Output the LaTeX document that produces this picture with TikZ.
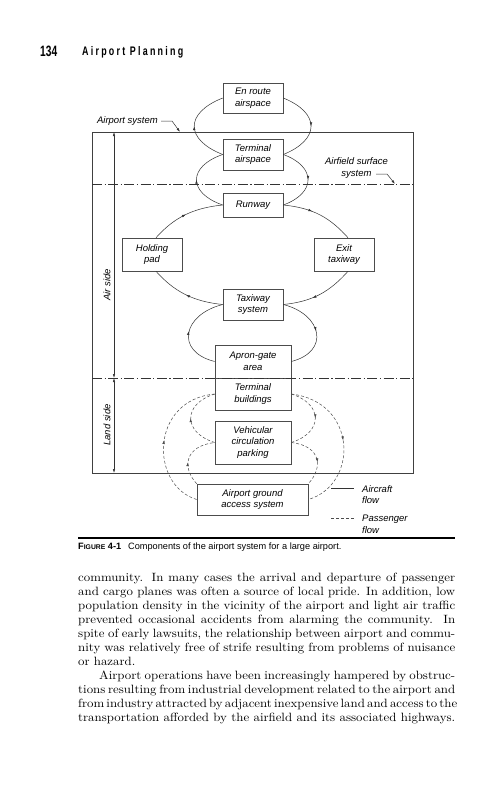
\documentclass[tikz,border=0pt]{standalone}
\usepackage{graphicx}
\usepackage{fontspec}
\usetikzlibrary{arrows.meta,decorations.markings}
\newfontfamily\figfont{Liberation Sans}
\newfontfamily\headfont[LetterSpace=25]{Liberation Sans}
\newfontfamily\bodyfont[FakeStretch=1.07]{lmroman10-regular.otf}
\newcommand{\jline}[1]{\hbox to 377pt{\spaceskip=4pt plus 8pt minus 1.8pt\relax #1}}
\begin{document}
\begin{tikzpicture}[x=1pt, y=-1pt,
  blk/.style={draw=black!70, line width=0.6pt, fill=white, align=center, inner sep=1pt, font=\figfont\itshape\fontsize{9.5}{11.7}\selectfont},
  lbl/.style={inner sep=0pt, font=\figfont\itshape\fontsize{9.5}{11.7}\selectfont},
  aflow/.style={draw=black!80, line width=0.5pt},
  pflow/.style={draw=black!70, line width=0.5pt, dash pattern=on 3pt off 2pt},
  midarrow/.style={postaction={decorate}, decoration={markings, mark=at position #1 with {\arrow{Latex[length=4pt,width=2.6pt]}}}},
  dimarr/.style={draw=black!80, line width=0.5pt, {Latex[length=4pt,width=2.4pt]}-{Latex[length=4pt,width=2.4pt]}},
  ldr/.style={draw=black!80, line width=0.5pt, -{Latex[length=4pt,width=2.4pt]}},
  dashdot/.style={draw=black!80, line width=0.6pt, dash pattern=on 10pt off 2.5pt on 1.2pt off 2.5pt},
  bodyln/.style={anchor=base west, inner sep=0pt, font=\bodyfont\fontsize{12}{14}\selectfont},
  capn/.style={anchor=base west, inner sep=0pt, font=\figfont\fontsize{9.2}{11}\selectfont}]
\path[fill=white, use as bounding box] (0,0) rectangle (503,800);
% running head
\node[anchor=base west, inner sep=0pt] (pgnum) at (40,56.5) {\resizebox{17pt}{10.5pt}{\figfont\bfseries 134}};
\node[anchor=base west, inner sep=0pt] (runhd) at (82,55.5) {\resizebox{101pt}{9pt}{\headfont\bfseries Airport Planning}};
% frame and boundaries
\coordinate (frmnw) at (92,132);
\coordinate (frmse) at (413,473);
\draw[draw=black!75, line width=0.6pt] (frmnw) rectangle (frmse);
\coordinate (dd1w) at (92,184);
\coordinate (dd1e) at (413,184);
\coordinate (dd2w) at (92,378);
\coordinate (dd2e) at (413,378);
% boxes
\node[blk, minimum width=60pt, minimum height=30pt] (enroute) at (253,98) {En route\\airspace};
\node[blk, minimum width=60pt, minimum height=31pt] (termair) at (253,154.5) {Terminal\\airspace};
\node[blk, minimum width=60pt, minimum height=24pt] (runway) at (253,205) {Runway};
\node[blk, minimum width=60pt, minimum height=33pt] (holdpad) at (152,254.5) {Holding\\pad};
\node[blk, minimum width=60pt, minimum height=33pt] (exittw) at (344,254.5) {Exit\\taxiway};
\node[blk, minimum width=60pt, minimum height=31pt] (taxisys) at (253,304.5) {Taxiway\\system};
\node[blk, minimum width=76pt, minimum height=33pt] (apron) at (253,361.5) {Apron-gate\\area};
\node[blk, minimum width=76pt, minimum height=32pt] (termbld) at (253,394) {Terminal\\buildings};
\node[blk, minimum width=76pt, minimum height=43pt] (vehcirc) at (253,442.5) {Vehicular\\circulation\\parking};
\node[blk, minimum width=111pt, minimum height=31pt] (grndacc) at (252.5,499.5) {Airport ground\\access system};
\draw[dashdot] (dd1w) -- (dd1e);
\draw[dashdot] (dd2w) -- (dd2e);
% aircraft flow
\draw[aflow, midarrow=0.5] (termair.west) .. controls +(-38,-15) and +(-38,15) .. (enroute.west);
\draw[aflow, midarrow=0.5] (enroute.east) .. controls +(37,15) and +(37,-15) .. (termair.east);
\draw[aflow, midarrow=0.5] (runway.west) .. controls +(-35,-12) and +(-35,12) .. (termair.west);
\draw[aflow, midarrow=0.5] (termair.east) .. controls +(33,12) and +(33,-12) .. (runway.east);
\draw[aflow, midarrow=0.4] (runway.east) .. controls +(30,3) and +(-18,-20) .. ([xshift=4pt]exittw.north);
\draw[aflow, midarrow=0.6] ([xshift=4pt]exittw.south) .. controls +(-18,20) and +(30,-3) .. (taxisys.east);
\draw[aflow, midarrow=0.5] (taxisys.west) .. controls +(-30,-3) and +(18,20) .. ([xshift=4pt]holdpad.south);
\draw[aflow, midarrow=0.5] ([xshift=4pt]holdpad.north) .. controls +(18,-20) and +(-30,3) .. (runway.west);
\draw[aflow, midarrow=0.5] (apron.west) .. controls +(-40,-10) and +(-40,10) .. (taxisys.west);
\draw[aflow, midarrow=0.5] (taxisys.east) .. controls +(39,10) and +(39,-10) .. (apron.east);
% passenger flow
\draw[pflow, midarrow=0.5] (vehcirc.west) .. controls +(-32,-10) and +(-32,10) .. (termbld.west);
\draw[pflow, midarrow=0.5] (grndacc.west) .. controls +(-47,-14) and +(-65,6) .. (termbld.west);
\draw[pflow, midarrow=0.4] (grndacc.north west) .. controls +(-15,-16) and +(-30,3.5) .. (vehcirc.west);
\draw[pflow, midarrow=0.5] (termbld.east) .. controls +(32,10) and +(32,-10) .. (vehcirc.east);
\draw[pflow, midarrow=0.5] (termbld.east) .. controls +(67,8) and +(50,-14.5) .. (grndacc.east);
\draw[pflow, midarrow=0.6] (vehcirc.east) .. controls +(30,3.5) and +(15,-16) .. (grndacc.north east);
% air side / land side
\coordinate (side1) at (114,132);
\coordinate (side2) at (114,378);
\coordinate (side3) at (114,473);
\draw[dimarr] (side1) -- (side2);
\draw[dimarr] (side2) -- (side3);
\node[lbl, rotate=90] (airside) at (107,285) {Air side};
\node[lbl, rotate=90] (landside) at (107,425) {Land side};
% labels with leaders
\node[lbl, anchor=east] (lblapt) at (158,121) {Airport system};
\coordinate (aptknee) at (172,121);
\coordinate (apttip) at (180,132);
\draw[ldr] ([xshift=3pt]lblapt.east) -- (aptknee) -- (apttip);
\node[lbl, align=center] (lblafs) at (356.5,168) {Airfield surface\\system};
\coordinate (afsstart) at (376,174);
\coordinate (afsknee) at (387,174);
\coordinate (afstip) at (395,184);
\draw[ldr] (afsstart) -- (afsknee) -- (afstip);
% legend
\coordinate (lga1) at (331,488);
\coordinate (lga2) at (354,488);
\draw[aflow] (lga1) -- (lga2);
\node[lbl, anchor=west, align=left] (lgatxt) at (362,494.5) {Aircraft\\flow};
\coordinate (lgp1) at (331,518);
\coordinate (lgp2) at (354,518);
\draw[pflow] (lgp1) -- (lgp2);
\node[lbl, anchor=west, align=left] (lgptxt) at (362,524.5) {Passenger\\flow};
% caption
\coordinate (rule1) at (78,538);
\coordinate (rule2) at (455,538);
\draw[line width=1.2pt] (rule1) -- (rule2);
\node[capn] (figno) at (78,549.5) {\bfseries F{\fontsize{6.8}{8}\selectfont IGURE} 4-1};
\node[capn] (captxt) at (128,549.5) {Components of the airport system for a large airport.};
% body text
\node[bodyln] (txt1) at (78,581) {\jline{community. In many cases the arrival and departure of passenger}};
\node[bodyln] (txt2) at (78,595) {\jline{and cargo planes was often a source of local pride. In addition, low}};
\node[bodyln] (txt3) at (78,609) {\jline{population density in the vicinity of the airport and light air traffic}};
\node[bodyln] (txt4) at (78,623) {\jline{prevented occasional accidents from alarming the community. In}};
\node[bodyln] (txt5) at (78,637) {\jline{spite of early lawsuits, the relationship between airport and commu-}};
\node[bodyln] (txt6) at (78,651) {\jline{nity was relatively free of strife resulting from problems of nuisance}};
\node[bodyln] (txt7) at (78,665) {or hazard.};
\node[bodyln] (txt8) at (78,679) {\jline{\hspace*{21pt}Airport operations have been increasingly hampered by obstruc-}};
\node[bodyln] (txt9) at (78,693) {\jline{tions resulting from industrial development related to the airport and}};
\node[bodyln] (txt10) at (78,707) {\jline{from industry attracted by adjacent inexpensive land and access to the}};
\node[bodyln] (txt11) at (78,721) {\jline{transportation afforded by the airfield and its associated highways.}};
\end{tikzpicture}
\end{document}
